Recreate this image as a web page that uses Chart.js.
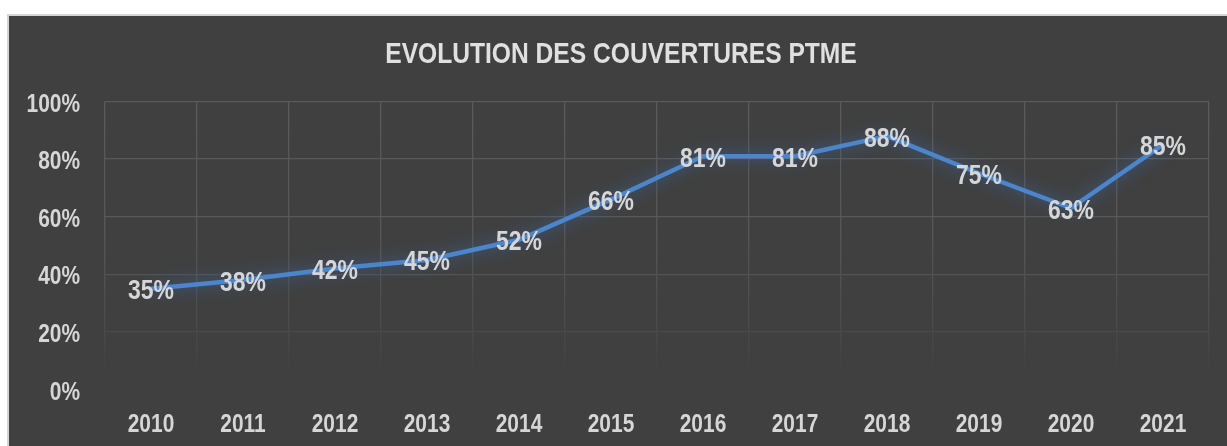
<!DOCTYPE html>
<html>
<head>
<meta charset="utf-8">
<script src="https://cdn.jsdelivr.net/npm/chart.js@4"></script>
<style>
  html, body { margin: 0; padding: 0; background: #fff; }
  #wrap { width: 1227px; height: 446px; position: relative; }
</style>
</head>
<body>
<div id="wrap"><canvas id="c"></canvas></div>
<script>
const years = ['2010', '2011', '2012', '2013', '2014', '2015', '2016', '2017', '2018', '2019', '2020', '2021'];
const coverage = [35, 38, 42, 45, 52, 66, 81, 81, 88, 75, 63, 85];
const yTicks = [0, 20, 40, 60, 80, 100];
const titleText = 'EVOLUTION DES COUVERTURES PTME';

const FONT = '"Liberation Sans", Arial, sans-serif';
const TXT = '#d6d6d6';
const NARROW = 0.82; // pas d'Arial Narrow installée : on compresse à la main

function narrowText(ctx, text, x, y, size, color, align) {
  ctx.save();
  ctx.font = 'bold ' + size + 'px ' + FONT;
  ctx.fillStyle = color;
  ctx.textAlign = align;
  ctx.textBaseline = 'alphabetic';
  ctx.translate(x, y);
  ctx.scale(NARROW, 1);
  ctx.fillText(text, 0, 0);
  ctx.restore();
}

/* panneau sombre avec bordure claire */
const panel = {
  id: 'panel',
  beforeDraw(chart) {
    const { ctx, width, height } = chart;
    ctx.save();
    ctx.fillStyle = '#ffffff';
    ctx.fillRect(0, 0, width, height);
    ctx.fillStyle = '#d4d4d4';
    ctx.fillRect(7, 14, width - 7, height - 14);
    ctx.fillStyle = '#404040';
    ctx.fillRect(9, 16, width - 9, height - 16);
    ctx.restore();
    narrowText(ctx, titleText, 621, 63, 30, '#e0e0e0', 'center');
  },
};

/* libellés des axes en police étroite */
const axisLabels = {
  id: 'axisLabels',
  afterDraw(chart) {
    const { ctx, scales, chartArea } = chart;
    yTicks.forEach(v => {
      narrowText(ctx, v + '%', chartArea.left - 25, scales.y.getPixelForValue(v) + 10, 25.5, TXT, 'right');
    });
    years.forEach((yr, i) => {
      narrowText(ctx, yr, scales.x.getPixelForValue(i), 431.5, 25.5, TXT, 'center');
    });
  },
};

/* halo bleu autour de la courbe */
const glow = {
  id: 'glow',
  beforeDatasetDraw(chart) {
    const ctx = chart.ctx;
    ctx.save();
    ctx.shadowColor = 'rgba(60,110,180,0.85)';
    ctx.shadowBlur = 16;
  },
  afterDatasetDraw(chart) {
    chart.ctx.restore();
  },
};

/* étiquettes de valeurs centrées sur les points */
const valueLabels = {
  id: 'valueLabels',
  afterDatasetsDraw(chart) {
    const meta = chart.getDatasetMeta(0);
    meta.data.forEach((pt, i) => {
      narrowText(chart.ctx, coverage[i] + '%', pt.x, pt.y + 10.5, 28, TXT, 'center');
    });
  },
};

function fadeGradient(chart) {
  const a = chart.chartArea;
  if (!a) return '#595959';
  const g = chart.ctx.createLinearGradient(0, a.top, 0, a.bottom);
  g.addColorStop(0, '#5a5a5a');
  g.addColorStop(0.45, '#575757');
  g.addColorStop(0.8, '#4a4a4a');
  g.addColorStop(1, 'rgba(64,64,64,0)');
  return g;
}

const hGridColors = { 100: '#5a5a5a', 80: '#5a5a5a', 60: '#595959', 40: '#535353', 20: '#4a4a4a', 0: 'rgba(64,64,64,0)' };

new Chart(document.getElementById('c').getContext('2d'), {
  type: 'line',
  data: {
    labels: years,
    datasets: [{
      data: coverage,
      borderColor: '#4b85cb',
      borderWidth: 4.5,
      pointRadius: 0,
      tension: 0,
      fill: false,
    }],
  },
  options: {
    responsive: true, maintainAspectRatio: false,
    animation: false,
    layout: { padding: { top: 101.5, right: 18, left: 0, bottom: 0 } },
    plugins: {
      legend: { display: false },
      tooltip: { enabled: false },
      title: { display: false },
    },
    scales: {
      x: {
        offset: true,
        grid: { offset: true, drawTicks: false, color: (c) => fadeGradient(c.chart), lineWidth: 1.3 },
        border: { display: false },
        ticks: { display: false },
        afterFit: (s) => { s.height = 56.5; },
      },
      y: {
        min: 0, max: 100,
        afterBuildTicks: (s) => { s.ticks = yTicks.map(v => ({ value: v })); },
        grid: { drawTicks: false, color: (c) => hGridColors[c.tick.value] || '#595959', lineWidth: 1.3 },
        border: { display: false },
        ticks: { display: false },
        afterFit: (s) => { s.width = 105; },
      },
    },
  },
  plugins: [panel, glow, valueLabels, axisLabels],
});
</script>
</body>
</html>
